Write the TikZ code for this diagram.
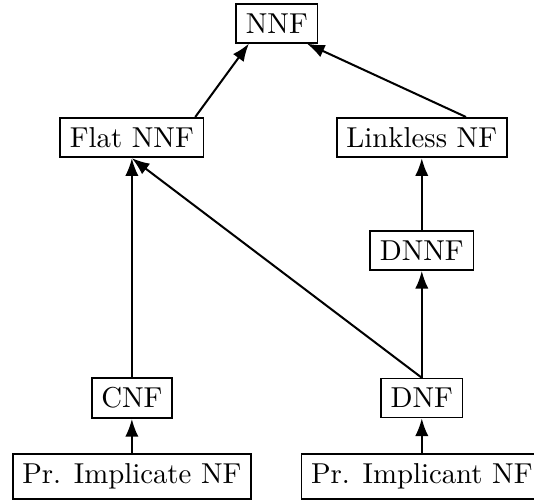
\documentclass[tikz,border=0pt]{standalone}
\usepackage{tikz}
\usetikzlibrary{arrows.meta,positioning}

\begin{document}
\begin{tikzpicture}[>=Latex,
    nfbox/.style={draw,line width=0.6pt,inner sep=3.33pt},
    nfedge/.style={->,line width=0.7pt}]
  \useasboundingbox (0,0) rectangle (6.52,-6.105);

  \node[nfbox] (nnf)       at (3.38,-0.285) {NNF};
  \node[nfbox] (flat)      at (1.61,-1.68)  {Flat NNF};
  \node[nfbox] (linkless)  at (5.15,-1.68)  {Linkless NF};
  \node[nfbox] (dnnf)      at (5.15,-3.06)  {DNNF};
  \node[nfbox] (cnf)       at (1.61,-4.86)  {CNF};
  \node[nfbox] (dnf)       at (5.15,-4.86)  {DNF};
  \node[nfbox] (implicate) at (1.61,-5.82)  {Pr. Implicate NF};
  \node[nfbox] (implicant) at (5.15,-5.82)  {Pr. Implicant NF};

  \draw[nfedge] (flat.18) -- (nnf.216);
  \draw[nfedge] (linkless.25) -- (nnf.326);
  \draw[nfedge] (cnf) -- (flat);
  \draw[nfedge] (dnf.north) -- (flat.south);
  \draw[nfedge] (dnnf) -- (linkless);
  \draw[nfedge] (dnf) -- (dnnf);
  \draw[nfedge] (implicate) -- (cnf);
  \draw[nfedge] (implicant) -- (dnf);
\end{tikzpicture}
\end{document}
